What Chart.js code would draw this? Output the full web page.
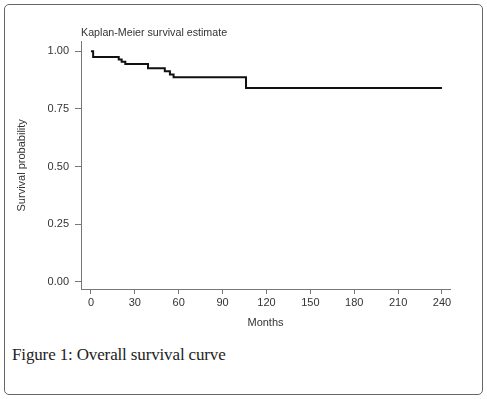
<!DOCTYPE html>
<html>
<head>
<meta charset="utf-8">
<script src="https://cdn.jsdelivr.net/npm/chart.js@4/dist/chart.umd.min.js"></script>
<style>
  html, body { margin: 0; padding: 0; background: #fff; width: 487px; height: 399px; overflow: hidden; }
  #frame { position: absolute; left: 4px; top: 4px; width: 477px; height: 389px; border: 1px solid #666; border-radius: 5px; }
  #wrap { position: absolute; left: 0; top: 0; width: 487px; height: 340px; }
  #caption { position: absolute; left: 12px; top: 345px; font-family: "Liberation Serif", "Times New Roman", serif; font-size: 17px; letter-spacing: -0.14px; color: #222; white-space: nowrap; line-height: 20px; }
</style>
</head>
<body>
<div id="frame"></div>
<div id="wrap"><canvas id="c" width="487" height="340"></canvas></div>
<div id="caption">Figure 1: Overall survival curve</div>
<script>
// Kaplan-Meier steps
const months = [0, 1.5, 19, 21, 23.5, 39, 50.5, 54, 56.5, 106, 240];
const survival = [1, 0.975, 0.965, 0.955, 0.945, 0.927, 0.913, 0.899, 0.887, 0.841, 0.841];
const xTicks = [0, 30, 60, 90, 120, 150, 180, 210, 240];
const yTicks = [0, 0.25, 0.5, 0.75, 1];

const points = months.map((m, i) => ({ x: m, y: survival[i] }));
const tickFont = { family: "'Liberation Sans', Arial, sans-serif", size: 11 };
const textColor = '#333';
const axisColor = '#777';

new Chart(document.getElementById('c'), {
  type: 'line',
  data: {
    datasets: [{
      data: points,
      stepped: 'before',
      borderColor: '#111',
      borderWidth: 2,
      pointRadius: 0,
      fill: false
    }]
  },
  options: {
    responsive: false,
    animation: false,
    devicePixelRatio: 1,
    layout: { padding: { left: 0, right: 37, top: 0, bottom: 0 } },
    plugins: {
      legend: { display: false },
      tooltip: { enabled: false },
      title: {
        display: true,
        text: 'Kaplan-Meier survival estimate',
        align: 'start',
        fullSize: false,
        color: textColor,
        font: { family: "'Liberation Sans', Arial, sans-serif", size: 10.7, weight: 'normal' },
        padding: { top: 26.4, bottom: 2.4 }
      }
    },
    scales: {
      x: {
        type: 'linear',
        min: -6.8,
        max: 245.5,
        afterBuildTicks: (s) => { s.ticks = xTicks.map(v => ({ value: v })); },
        afterFit: (s) => { s.height = 51; },
        ticks: { color: textColor, font: tickFont, padding: 2, maxRotation: 0, autoSkip: false },
        grid: { drawOnChartArea: false, drawTicks: true, tickLength: 5, color: axisColor },
        border: { display: true, color: axisColor, width: 1 },
        title: { display: true, text: 'Months', color: textColor, font: tickFont, padding: { top: 0, bottom: 10.7 } }
      },
      y: {
        type: 'linear',
        min: -0.0317,
        max: 1.042,
        afterBuildTicks: (s) => { s.ticks = yTicks.map(v => ({ value: v })); },
        afterFit: (s) => { s.width = 81; },
        ticks: { color: textColor, font: tickFont, padding: 6, callback: (v) => v.toFixed(2), autoSkip: false },
        grid: { drawOnChartArea: false, drawTicks: true, tickLength: 6, color: axisColor },
        border: { display: true, color: axisColor, width: 1 },
        title: { display: true, text: 'Survival probability', color: textColor, font: tickFont, padding: { top: 15, bottom: 0 } }
      }
    }
  }
});
</script>
</body>
</html>
